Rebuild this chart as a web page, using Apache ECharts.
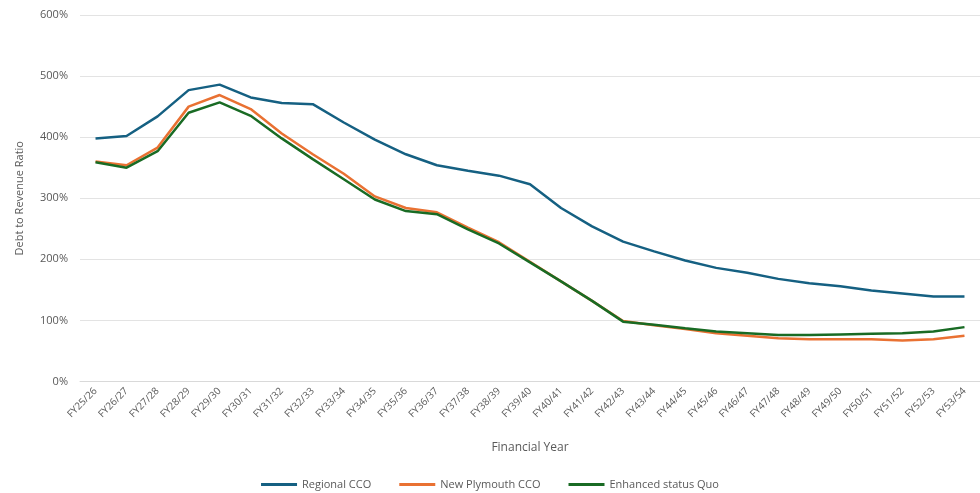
<!DOCTYPE html>
<html>
<head>
<meta charset="utf-8">
<script src="https://cdn.jsdelivr.net/npm/echarts@6/dist/echarts.min.js"></script>
<style>html,body{margin:0;padding:0;background:#fff}#c{width:980px;height:493px}</style>
</head>
<body>
<div id="c"></div>
<script>
const categories = ["FY25/26","FY26/27","FY27/28","FY28/29","FY29/30","FY30/31","FY31/32","FY32/33","FY33/34","FY34/35","FY35/36","FY36/37","FY37/38","FY38/39","FY39/40","FY40/41","FY41/42","FY42/43","FY43/44","FY44/45","FY45/46","FY46/47","FY47/48","FY48/49","FY49/50","FY50/51","FY51/52","FY52/53","FY53/54"];
const regionalCCO = [398,402,434,477,486,465,456,454,424,396,372,354,345,337,323,284,254,229,213,198,186,178,168,161,156,149,144,139,139];
const newPlymouthCCO = [360,354,383,450,469,446,406,372,340,303,284,277,252,228,196,164,132,99,92,86,79,75,71,69,69,69,67,69,75];
const enhancedStatusQuo = [359,350,377,440,457,435,398,364,331,298,279,274,249,226,195,164,132,98,93,87,82,79,76,76,77,78,79,82,89];
const yTicks = [0,100,200,300,400,500,600];

const txt = '#595959';
const font = 'Open Sans';
const chart = echarts.init(document.getElementById('c'), null, {renderer:'canvas'});
chart.setOption({
  animation:false,
  backgroundColor:'#fff',
  textStyle:{fontFamily:font},
  grid:{left:80,right:-13,top:15,bottom:111.5,containLabel:false},
  legend:{
    bottom:1,left:'center',padding:[2,5,2,5],
    icon:'rect',itemWidth:36,itemHeight:3,itemGap:28,
    textStyle:{color:txt,fontSize:11,fontFamily:font},
    data:['Regional CCO','New Plymouth CCO','Enhanced status Quo']
  },
  xAxis:{
    type:'category',data:categories,boundaryGap:true,
    name:'Financial Year',nameLocation:'middle',nameGap:60,
    nameTextStyle:{color:txt,fontSize:12,fontFamily:font},
    axisLine:{show:true,lineStyle:{color:'#d9d9d9'}},
    axisTick:{show:false},
    axisLabel:{rotate:45,color:txt,fontSize:10,fontFamily:font,margin:8,interval:0}
  },
  yAxis:{
    type:'value',min:yTicks[0],max:yTicks[yTicks.length-1],interval:100,
    name:'Debt to Revenue Ratio',nameLocation:'middle',nameGap:55,
    nameTextStyle:{color:txt,fontSize:11,fontFamily:font},
    axisLine:{show:false},axisTick:{show:false},
    axisLabel:{formatter:'{value}%',color:txt,fontSize:11,fontFamily:font,margin:12},
    splitLine:{lineStyle:{color:'#e3e3e3',width:1}}
  },
  series:[
    {name:'Regional CCO',type:'line',data:regionalCCO,showSymbol:false,symbol:'none',lineStyle:{color:'#156082',width:2.5},itemStyle:{color:'#156082'}},
    {name:'New Plymouth CCO',type:'line',data:newPlymouthCCO,showSymbol:false,symbol:'none',lineStyle:{color:'#E97132',width:2.5},itemStyle:{color:'#E97132'}},
    {name:'Enhanced status Quo',type:'line',data:enhancedStatusQuo,showSymbol:false,symbol:'none',lineStyle:{color:'#196B24',width:2.5},itemStyle:{color:'#196B24'}}
  ]
});
</script>
</body>
</html>
